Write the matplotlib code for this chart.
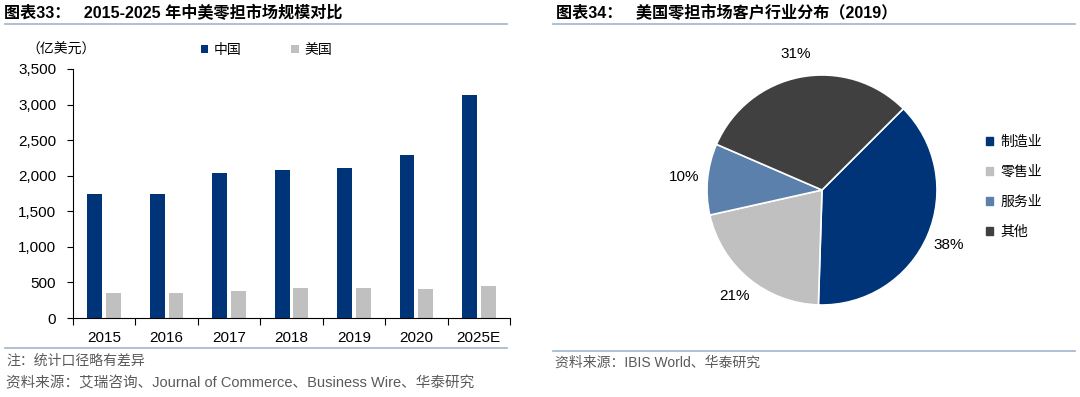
import matplotlib.pyplot as plt
from matplotlib.patches import Patch
import numpy as np

plt.rcParams['font.family'] = ['Liberation Sans', 'Noto Sans CJK SC', 'DejaVu Sans']

# bar chart data (亿美元)
years = ['2015', '2016', '2017', '2018', '2019', '2020', '2025E']
china = [1750, 1745, 2040, 2080, 2110, 2290, 3140]
usa = [345, 345, 380, 415, 420, 405, 450]

# pie data
sectors = ['制造业', '零售业', '服务业', '其他']
shares = [38, 21, 10, 31]

navy = '#003478'
lgray = '#C0C0C0'
steel = '#5B80AC'
dgray = '#404040'
rule = '#9FB5CA'
note = '#5A5A5A'

W, H = 1080, 397
fig = plt.figure(figsize=(W / 100, H / 100), dpi=100)

def fx(px):
    return px / W

def fy(py):
    return 1 - py / H

# titles and rules
fig.text(fx(4), fy(13), '图表33：   2015-2025 年中美零担市场规模对比', fontsize=11.6,
         fontweight='bold', va='center', ha='left')
fig.text(fx(556), fy(13), '图表34：   美国零担市场客户行业分布（2019）', fontsize=11.6,
         fontweight='bold', va='center', ha='left')
for x0, x1, y in [(5, 507, 24), (553, 1075, 24), (5, 507, 348), (553, 1075, 351)]:
    fig.add_artist(plt.Line2D([fx(x0), fx(x1)], [fy(y), fy(y)], color=rule, lw=1.2))

fig.text(fx(6), fy(361), '注：统计口径略有差异', fontsize=10, color=note, va='center')
fig.text(fx(6), fy(383), '资料来源：艾瑞咨询、Journal of Commerce、Business Wire、华泰研究',
         fontsize=10.5, color=note, va='center')
fig.text(fx(555), fy(363), '资料来源：IBIS World、华泰研究', fontsize=10, color=note, va='center')

# ---- bar chart
ax = fig.add_axes([fx(73), fy(318), fx(510 - 73), (318 - 69) / H])
x = np.arange(len(years))
bw = 0.24
ax.bar(x - 0.15, china, bw, color=navy, label='中国')
ax.bar(x + 0.15, usa, bw, color=lgray, label='美国')
ax.set_xlim(-0.5, len(years) - 0.5)
ax.set_ylim(0, 3500)
ax.set_yticks(range(0, 3501, 500))
ax.set_yticklabels([f'{v:,}' for v in range(0, 3501, 500)], fontsize=11)
ax.set_xticks(np.arange(-0.5, len(years), 1))
ax.set_xticklabels([])
ax.set_xticks(x, minor=True)
ax.set_xticklabels(years, minor=True, fontsize=11)
ax.tick_params(axis='x', which='major', length=5, color='black', width=0.8)
ax.tick_params(axis='x', which='minor', length=0, pad=9)
ax.tick_params(axis='y', length=4, width=0.8, pad=8)
for s in ['top', 'right']:
    ax.spines[s].set_visible(False)
ax.spines['left'].set_color('black')
ax.spines['bottom'].set_color('black')
ax.spines['left'].set_linewidth(0.8)
ax.spines['bottom'].set_linewidth(0.8)

fig.text(fx(26), fy(50), '（亿美元）', fontsize=10, va='center', ha='left')
ax.legend(loc='center left', bbox_to_anchor=(fx(188), fy(50)), bbox_transform=fig.transFigure,
          ncol=2, frameon=False, fontsize=10, handlelength=0.55, handleheight=0.55,
          handletextpad=0.4, columnspacing=3.6)

# ---- pie chart
r = 115
pax = fig.add_axes([fx(822 - r), fy(190 + r), 2 * r / W, 2 * r / H])
wedges, texts, autotexts = pax.pie(
    shares, colors=[navy, lgray, steel, dgray], startangle=45, counterclock=False,
    autopct='%d%%', pctdistance=1.2, radius=1,
    wedgeprops=dict(edgecolor='white', linewidth=1.2))
for t in autotexts:
    t.set_fontsize(11)
pax.set_xlim(-1, 1)
pax.set_ylim(-1, 1)
pax.set_aspect('equal')

handles = [Patch(color=c) for c in [navy, lgray, steel, dgray]]
fig.legend(handles, sectors, loc='center left', bbox_to_anchor=(fx(973), fy(187)),
           frameon=False, fontsize=10, handlelength=0.55, handleheight=0.55,
           handletextpad=0.5, labelspacing=1.15)

fig.savefig('out.png', dpi=100)
